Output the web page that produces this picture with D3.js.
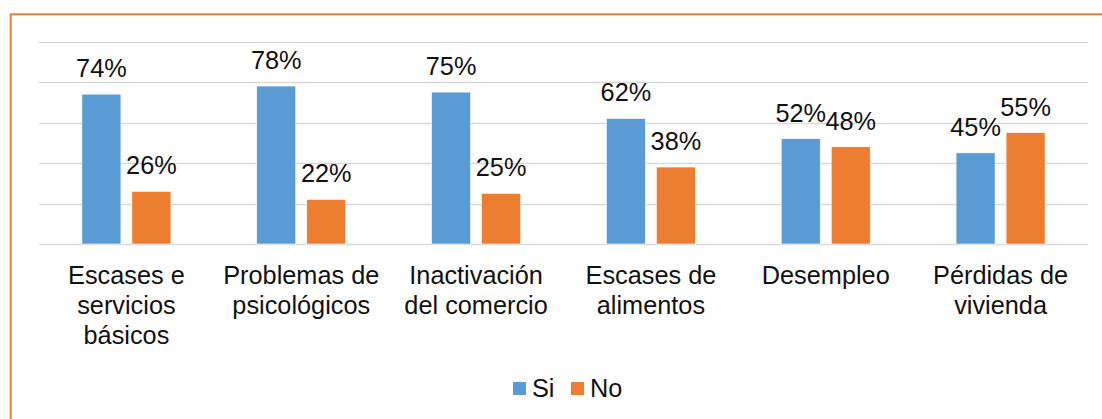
<!DOCTYPE html>
<html>
<head>
<meta charset="utf-8">
<script src="https://cdn.jsdelivr.net/npm/d3@7"></script>
<style>
  body { margin: 0; background: #fff; }
  svg { display: block; font-family: "Liberation Sans", Arial, sans-serif; }
</style>
</head>
<body>
<div id="chart"></div>
<script>
// categories, each split into the lines shown under the axis
var categories = [
  "Escases e servicios básicos",
  "Problemas de psicológicos",
  "Inactivación del comercio",
  "Escases de alimentos",
  "Desempleo",
  "Pérdidas de vivienda"
];
var categoryLines = [
  ["Escases e", "servicios", "básicos"],
  ["Problemas de", "psicológicos"],
  ["Inactivación", "del comercio"],
  ["Escases de", "alimentos"],
  ["Desempleo"],
  ["Pérdidas de", "vivienda"]
];
var seriesNames = ["Si", "No"];
var siValues = [74, 78, 75, 62, 52, 45];
var noValues = [26, 22, 25, 38, 48, 55];
var yTicks = [0, 20, 40, 60, 80, 100];

var colors = { Si: "#5B9BD5", No: "#ED7D31" };

var width = 1102, height = 419;
var fontSize = 25.3;

var svg = d3.select("#chart")
  .append("svg")
  .attr("width", width)
  .attr("height", height);

// outer frame (only top and left edges fall inside the picture)
svg.append("rect")
  .attr("x", 10.7)
  .attr("y", 14.3)
  .attr("width", 1300)
  .attr("height", 600)
  .attr("fill", "none")
  .attr("stroke", "#ED7D31")
  .attr("stroke-width", 2);

// scales
var x = d3.scaleBand().domain(categories).range([39, 1088]).padding(0);
var xs = d3.scaleBand().domain(seriesNames).range([0, x.bandwidth()])
  .paddingInner(0.22).paddingOuter(0.858);
var y = d3.scaleLinear().domain([0, 100]).range([244, 41.5]);

// gridlines
svg.append("g")
  .selectAll("line")
  .data(yTicks)
  .join("line")
  .attr("x1", 39)
  .attr("x2", 1088)
  .attr("y1", function (d) { return Math.round(y(d)) + 0.5; })
  .attr("y2", function (d) { return Math.round(y(d)) + 0.5; })
  .attr("stroke", "#D9D9D9")
  .attr("stroke-width", 1.5);

var rows = categories.map(function (c, i) {
  return { cat: c, values: [
    { key: "Si", value: siValues[i] },
    { key: "No", value: noValues[i] }
  ] };
});

var groups = svg.append("g")
  .selectAll("g")
  .data(rows)
  .join("g")
  .attr("transform", function (d) { return "translate(" + x(d.cat) + ",0)"; });

groups.selectAll("rect")
  .data(function (d) { return d.values; })
  .join("rect")
  .attr("x", function (d) { return xs(d.key); })
  .attr("y", function (d) { return y(d.value); })
  .attr("width", xs.bandwidth())
  .attr("height", function (d) { return y(0) - y(d.value); })
  .attr("fill", function (d) { return colors[d.key]; })
  .attr("stroke", "#fff")
  .attr("stroke-width", 0.6);

// data labels
groups.selectAll("text.val")
  .data(function (d) { return d.values; })
  .join("text")
  .attr("class", "val")
  .attr("x", function (d) { return xs(d.key) + xs.bandwidth() / 2; })
  .attr("y", function (d) { return y(d.value) - 17; })
  .attr("text-anchor", "middle")
  .attr("font-size", fontSize)
  .attr("fill", "#111")
  .text(function (d) { return d.value + "%"; });

// category labels
var catText = svg.append("g")
  .selectAll("text")
  .data(categories)
  .join("text")
  .attr("x", function (d) { return x(d) + x.bandwidth() / 2; })
  .attr("y", 284)
  .attr("text-anchor", "middle")
  .attr("font-size", fontSize)
  .attr("fill", "#111");

catText.selectAll("tspan")
  .data(function (d, i) { return categoryLines[i]; })
  .join("tspan")
  .attr("x", function () { return d3.select(this.parentNode).attr("x"); })
  .attr("dy", function (d, i) { return i === 0 ? 0 : 30; })
  .text(function (d) { return d; });

// legend
var legendX = [513, 571];
var legend = svg.append("g")
  .selectAll("g")
  .data(seriesNames)
  .join("g")
  .attr("transform", function (d, i) { return "translate(" + legendX[i] + ",382)"; });

legend.append("rect")
  .attr("width", 13)
  .attr("height", 13)
  .attr("fill", function (d) { return colors[d]; });

legend.append("text")
  .attr("x", 19)
  .attr("y", 14.5)
  .attr("font-size", fontSize)
  .attr("fill", "#111")
  .text(function (d) { return d; });
</script>
</body>
</html>
